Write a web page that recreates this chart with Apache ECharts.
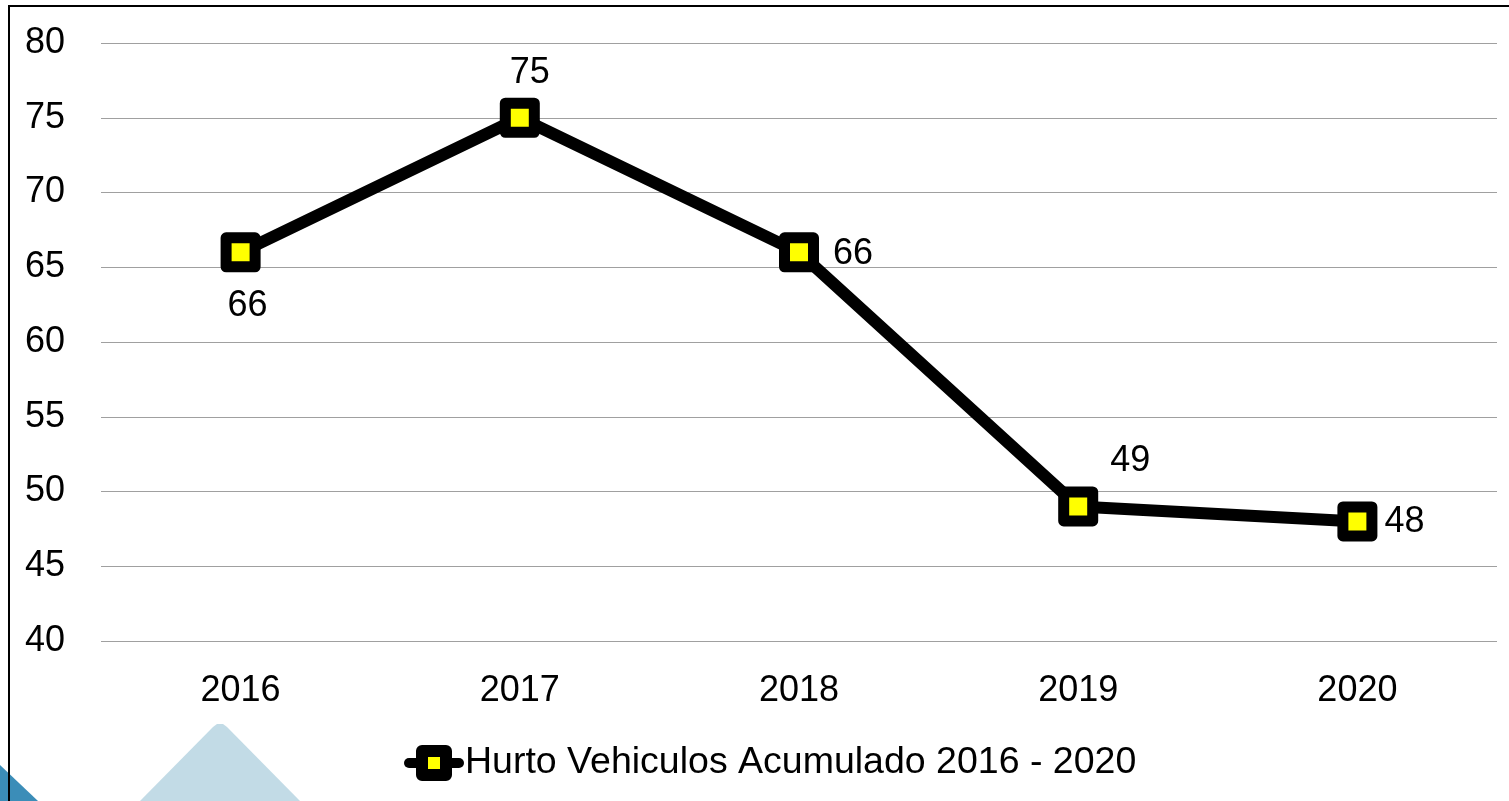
<!DOCTYPE html>
<html>
<head>
<meta charset="utf-8">
<script src="https://cdn.jsdelivr.net/npm/echarts@6/dist/echarts.min.js"></script>
<style>
  html, body { margin: 0; padding: 0; background: #fff; }
  #main { width: 1509px; height: 801px; }
</style>
</head>
<body>
<div id="main"></div>
<script>
const years = ['2016', '2017', '2018', '2019', '2020'];
const hurtos = [66, 75, 66, 49, 48];
const labelOffsets = [[7, 54], [10, -45], [54, 2], [52, -45], [47, 1]];
const seriesName = 'Hurto Vehiculos Acumulado 2016 - 2020';

const chart = echarts.init(document.getElementById('main'));
const font = 'Liberation Sans, Arial, sans-serif';

chart.setOption({
  backgroundColor: '#fff',
  animation: false,
  graphic: [
    {
      type: 'polygon',
      z: -1,
      shape: { points: [[0, 765], [38, 801], [0, 801]] },
      style: { fill: '#3b8db8' }
    },
    {
      type: 'polygon',
      z: -1,
      shape: { points: [[140, 801], [213, 727], [217, 724], [223, 724], [227, 727], [300, 801]] },
      style: { fill: '#c2dbe6' }
    },
    {
      type: 'rect',
      shape: { x: 9, y: 6, width: 1510, height: 810 },
      style: { fill: 'none', stroke: '#000', lineWidth: 2 }
    }
  ],
  grid: { left: 101, right: 12, top: 43, bottom: 160 },
  legend: {
    bottom: 14,
    left: 399,
    itemWidth: 50,
    itemHeight: 30,
    itemGap: 0,
    lineStyle: { color: '#000', width: 10, cap: 'round' },
    itemStyle: { color: '#ffff00', borderColor: '#000', borderWidth: 12, borderJoin: 'round' },
    textStyle: { fontFamily: font, fontSize: 37.5, color: '#000', padding: [0, 0, 0, 1] },
    data: [seriesName]
  },
  xAxis: {
    type: 'category',
    data: years,
    boundaryGap: true,
    axisLine: { show: false },
    axisTick: { show: false },
    axisLabel: { color: '#000', fontFamily: font, fontSize: 36, margin: 32 }
  },
  yAxis: {
    type: 'value',
    min: 40,
    max: 80,
    interval: 5,
    axisLine: { show: false },
    axisTick: { show: false },
    axisLabel: { color: '#000', fontFamily: font, fontSize: 36, margin: 36 },
    splitLine: { lineStyle: { color: '#a0a0a0', width: 1 } }
  },
  series: [{
    name: seriesName,
    type: 'line',
    data: hurtos.map((v, i) => ({
      value: v,
      label: { offset: labelOffsets[i] }
    })),
    symbol: 'rect',
    symbolSize: 29,
    lineStyle: { color: '#000', width: 12 },
    itemStyle: { color: '#ffff00', borderColor: '#000', borderWidth: 11, borderJoin: 'round' },
    label: {
      show: true,
      position: 'inside',
      color: '#000',
      fontFamily: font,
      fontSize: 36
    }
  }]
});
</script>
</body>
</html>
